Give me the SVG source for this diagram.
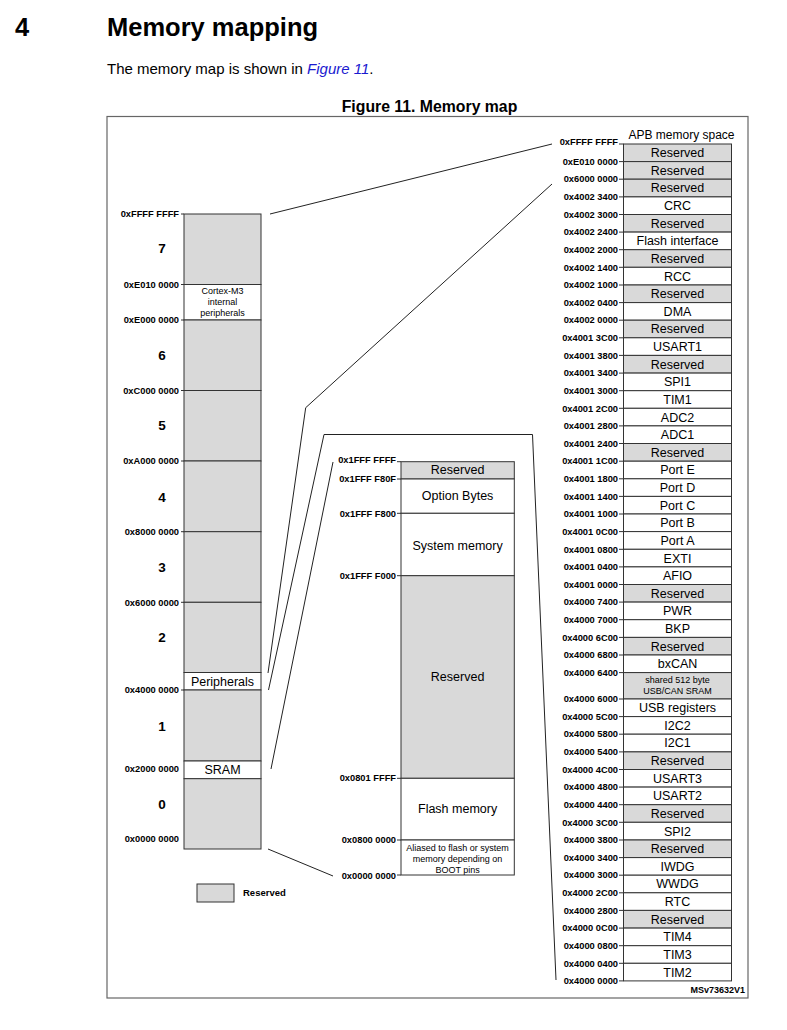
<svg xmlns="http://www.w3.org/2000/svg" width="787" height="1030" viewBox="0 0 787 1030">
<style>
text{font-family:"Liberation Sans",Arial,sans-serif;fill:#000}
.h1{font-size:25.5px;font-weight:bold}
.p{font-size:15px}
.cap{font-size:15.8px;font-weight:bold;text-anchor:middle}
.frame{fill:none;stroke:#666;stroke-width:1.2}
.bx{stroke:#333;stroke-width:1}
.r{fill:#d9d9d9}
.w{fill:#fff}
.a{font-size:9.3px;font-weight:bold;text-anchor:end}
.t{font-size:12.5px;text-anchor:middle}
.s{font-size:9px;text-anchor:middle}
.n{font-size:13.5px;font-weight:bold;text-anchor:middle}
.tick{stroke:#333;stroke-width:1;fill:none}
.conn{fill:none;stroke:#222;stroke-width:1}
</style>

<text class="h1" x="15" y="36">4</text>
<text class="h1" x="107" y="36">Memory mapping</text>
<text class="p" x="107" y="74">The memory map is shown in <tspan fill="#1a1ad0" font-style="italic">Figure 11</tspan>.</text>
<text class="cap" x="429.5" y="112">Figure 11. Memory map</text>
<rect class="frame" x="107" y="116.5" width="641" height="881.5"/>

<!-- Left column: full 4 GB map -->
<g id="left-map">
<g id="L7"><rect class="bx r" x="184" y="214" width="77" height="70.5"/><text class="n" x="162" y="252.7">7</text></g>
<g id="L-cortex"><rect class="bx w" x="184" y="284.5" width="77" height="35.5"/><text class="s" x="222.5" y="294">Cortex-M3</text><text class="s" x="222.5" y="305">internal</text><text class="s" x="222.5" y="316">peripherals</text></g>
<g id="L6"><rect class="bx r" x="184" y="320" width="77" height="70.5"/><text class="n" x="162" y="359.7">6</text></g>
<g id="L5"><rect class="bx r" x="184" y="390.5" width="77" height="70.5"/><text class="n" x="162" y="429.7">5</text></g>
<g id="L4"><rect class="bx r" x="184" y="461" width="77" height="70.7"/><text class="n" x="162" y="501.7">4</text></g>
<g id="L3"><rect class="bx r" x="184" y="531.7" width="77" height="70.6"/><text class="n" x="162" y="571.7">3</text></g>
<g id="L2"><rect class="bx r" x="184" y="602.3" width="77" height="70.2"/><text class="n" x="162" y="641.7">2</text></g>
<g id="L-periph"><rect class="bx w" x="184" y="672.5" width="77" height="17.5"/><text class="t" x="222.5" y="685.7">Peripherals</text></g>
<g id="L1"><rect class="bx r" x="184" y="690" width="77" height="71"/><text class="n" x="162" y="730.7">1</text></g>
<g id="L-sram"><rect class="bx w" x="184" y="761" width="77" height="17.7"/><text class="t" x="222.5" y="774.4">SRAM</text></g>
<g id="L0"><rect class="bx r" x="184" y="778.7" width="77" height="70.3"/><text class="n" x="162" y="808.7">0</text></g>
<path class="tick" d="M181 214H184M181 284.5H184M181 320H184M181 390.5H184M181 461H184M181 531.7H184M181 602.3H184M181 690H184"/>
<g id="L-addr">
<text class="a" x="179" y="217.3">0xFFFF FFFF</text>
<text class="a" x="179" y="287.8">0xE010 0000</text>
<text class="a" x="179" y="323.3">0xE000 0000</text>
<text class="a" x="179" y="393.8">0xC000 0000</text>
<text class="a" x="179" y="464.3">0xA000 0000</text>
<text class="a" x="179" y="535">0x8000 0000</text>
<text class="a" x="179" y="605.6">0x6000 0000</text>
<text class="a" x="179" y="693.3">0x4000 0000</text>
<text class="a" x="179" y="772.3">0x2000 0000</text>
<text class="a" x="179" y="842.3">0x0000 0000</text>
</g>
</g>

<g id="legend"><rect class="bx r" x="197" y="884" width="37" height="18"/><text x="243" y="896" font-size="9.5" font-weight="bold">Reserved</text></g>

<!-- Middle column: code area -->
<g id="mid-map">
<g id="M-res1"><rect class="bx r" x="401" y="461.7" width="113.3" height="17.3"/><text class="t" x="457.6" y="474.4">Reserved</text></g>
<g id="M-opt"><rect class="bx w" x="401" y="479" width="113.3" height="34.3"/><text class="t" x="457.6" y="500.1">Option Bytes</text></g>
<g id="M-sys"><rect class="bx w" x="401" y="513.3" width="113.3" height="62.4"/><text class="t" x="457.6" y="550.1">System memory</text></g>
<g id="M-res2"><rect class="bx r" x="401" y="575.7" width="113.3" height="202.6"/><text class="t" x="457.6" y="681.1">Reserved</text></g>
<g id="M-flash"><rect class="bx w" x="401" y="778.3" width="113.3" height="61.7"/><text class="t" x="457.6" y="813.4">Flash memory</text></g>
<g id="M-alias"><rect class="bx w" x="401" y="840" width="113.3" height="35"/><text class="s" x="457.6" y="850.5" font-size="9.5">Aliased to flash or system</text><text class="s" x="457.6" y="861.5" font-size="9.5">memory depending on</text><text class="s" x="457.6" y="872.5" font-size="9.5">BOOT pins</text></g>
<path class="tick" d="M397 461.7H401M397 479H401M397 513.3H401M397 575.7H401M397 778.3H401M397 840H401M397 875H401"/>
<g id="M-addr">
<text class="a" x="396" y="463.3">0x1FFF FFFF</text>
<text class="a" x="396" y="481.6">0x1FFF F80F</text>
<text class="a" x="396" y="516.6">0x1FFF F800</text>
<text class="a" x="396" y="579">0x1FFF F000</text>
<text class="a" x="396" y="781.3">0x0801 FFFF</text>
<text class="a" x="396" y="843.3">0x0800 0000</text>
<text class="a" x="396" y="879.3">0x0000 0000</text>
</g>
</g>

<!-- Right column: APB memory space -->
<g id="right-map">
<text x="681.5" y="139.3" font-size="12" text-anchor="middle">APB memory space</text>
<g id="R01"><rect class="bx r" x="623.5" y="144" width="108" height="17.6"/><text class="t" x="677.5" y="157.2">Reserved</text></g>
<g id="R02"><rect class="bx r" x="623.5" y="161.6" width="108" height="17.6"/><text class="t" x="677.5" y="174.8">Reserved</text></g>
<g id="R03"><rect class="bx r" x="623.5" y="179.2" width="108" height="17.7"/><text class="t" x="677.5" y="192.4">Reserved</text></g>
<g id="R04"><rect class="bx w" x="623.5" y="196.9" width="108" height="17.6"/><text class="t" x="677.5" y="210.1">CRC</text></g>
<g id="R05"><rect class="bx r" x="623.5" y="214.5" width="108" height="17.6"/><text class="t" x="677.5" y="227.7">Reserved</text></g>
<g id="R06"><rect class="bx w" x="623.5" y="232.1" width="108" height="17.6"/><text class="t" x="677.5" y="245.3">Flash interface</text></g>
<g id="R07"><rect class="bx r" x="623.5" y="249.7" width="108" height="17.6"/><text class="t" x="677.5" y="262.9">Reserved</text></g>
<g id="R08"><rect class="bx w" x="623.5" y="267.3" width="108" height="17.7"/><text class="t" x="677.5" y="280.5">RCC</text></g>
<g id="R09"><rect class="bx r" x="623.5" y="285" width="108" height="17.6"/><text class="t" x="677.5" y="298.2">Reserved</text></g>
<g id="R10"><rect class="bx w" x="623.5" y="302.6" width="108" height="17.6"/><text class="t" x="677.5" y="315.8">DMA</text></g>
<g id="R11"><rect class="bx r" x="623.5" y="320.2" width="108" height="17.6"/><text class="t" x="677.5" y="333.4">Reserved</text></g>
<g id="R12"><rect class="bx w" x="623.5" y="337.8" width="108" height="17.6"/><text class="t" x="677.5" y="351">USART1</text></g>
<g id="R13"><rect class="bx r" x="623.5" y="355.4" width="108" height="17.7"/><text class="t" x="677.5" y="368.6">Reserved</text></g>
<g id="R14"><rect class="bx w" x="623.5" y="373.1" width="108" height="17.6"/><text class="t" x="677.5" y="386.3">SPI1</text></g>
<g id="R15"><rect class="bx w" x="623.5" y="390.7" width="108" height="17.6"/><text class="t" x="677.5" y="403.9">TIM1</text></g>
<g id="R16"><rect class="bx w" x="623.5" y="408.3" width="108" height="17.6"/><text class="t" x="677.5" y="421.5">ADC2</text></g>
<g id="R17"><rect class="bx w" x="623.5" y="425.9" width="108" height="17.6"/><text class="t" x="677.5" y="439.1">ADC1</text></g>
<g id="R18"><rect class="bx r" x="623.5" y="443.5" width="108" height="17.7"/><text class="t" x="677.5" y="456.7">Reserved</text></g>
<g id="R19"><rect class="bx w" x="623.5" y="461.2" width="108" height="17.6"/><text class="t" x="677.5" y="474.4">Port E</text></g>
<g id="R20"><rect class="bx w" x="623.5" y="478.8" width="108" height="17.6"/><text class="t" x="677.5" y="492">Port D</text></g>
<g id="R21"><rect class="bx w" x="623.5" y="496.4" width="108" height="17.6"/><text class="t" x="677.5" y="509.6">Port C</text></g>
<g id="R22"><rect class="bx w" x="623.5" y="514" width="108" height="17.6"/><text class="t" x="677.5" y="527.2">Port B</text></g>
<g id="R23"><rect class="bx w" x="623.5" y="531.6" width="108" height="17.7"/><text class="t" x="677.5" y="544.8">Port A</text></g>
<g id="R24"><rect class="bx w" x="623.5" y="549.3" width="108" height="17.6"/><text class="t" x="677.5" y="562.5">EXTI</text></g>
<g id="R25"><rect class="bx w" x="623.5" y="566.9" width="108" height="17.6"/><text class="t" x="677.5" y="580.1">AFIO</text></g>
<g id="R26"><rect class="bx r" x="623.5" y="584.5" width="108" height="17.6"/><text class="t" x="677.5" y="597.7">Reserved</text></g>
<g id="R27"><rect class="bx w" x="623.5" y="602.1" width="108" height="17.6"/><text class="t" x="677.5" y="615.3">PWR</text></g>
<g id="R28"><rect class="bx w" x="623.5" y="619.7" width="108" height="17.7"/><text class="t" x="677.5" y="632.9">BKP</text></g>
<g id="R29"><rect class="bx r" x="623.5" y="637.4" width="108" height="17.6"/><text class="t" x="677.5" y="650.6">Reserved</text></g>
<g id="R30"><rect class="bx w" x="623.5" y="655" width="108" height="17.6"/><text class="t" x="677.5" y="668.2">bxCAN</text></g>
<g id="R31"><rect class="bx r" x="623.5" y="672.6" width="108" height="26.4"/><text class="s" x="677.5" y="683" font-size="8.8">shared 512 byte</text><text class="s" x="677.5" y="694" font-size="8.8">USB/CAN SRAM</text></g>
<g id="R32"><rect class="bx w" x="623.5" y="699" width="108" height="17.6"/><text class="t" x="677.5" y="712.2">USB registers</text></g>
<g id="R33"><rect class="bx w" x="623.5" y="716.6" width="108" height="17.6"/><text class="t" x="677.5" y="729.8">I2C2</text></g>
<g id="R34"><rect class="bx w" x="623.5" y="734.2" width="108" height="17.7"/><text class="t" x="677.5" y="747.4">I2C1</text></g>
<g id="R35"><rect class="bx r" x="623.5" y="751.9" width="108" height="17.6"/><text class="t" x="677.5" y="765.1">Reserved</text></g>
<g id="R36"><rect class="bx w" x="623.5" y="769.5" width="108" height="17.6"/><text class="t" x="677.5" y="782.7">USART3</text></g>
<g id="R37"><rect class="bx w" x="623.5" y="787.1" width="108" height="17.6"/><text class="t" x="677.5" y="800.3">USART2</text></g>
<g id="R38"><rect class="bx r" x="623.5" y="804.7" width="108" height="17.6"/><text class="t" x="677.5" y="817.9">Reserved</text></g>
<g id="R39"><rect class="bx w" x="623.5" y="822.3" width="108" height="17.7"/><text class="t" x="677.5" y="835.5">SPI2</text></g>
<g id="R40"><rect class="bx r" x="623.5" y="840" width="108" height="17.6"/><text class="t" x="677.5" y="853.2">Reserved</text></g>
<g id="R41"><rect class="bx w" x="623.5" y="857.6" width="108" height="17.6"/><text class="t" x="677.5" y="870.8">IWDG</text></g>
<g id="R42"><rect class="bx w" x="623.5" y="875.2" width="108" height="17.6"/><text class="t" x="677.5" y="888.4">WWDG</text></g>
<g id="R43"><rect class="bx w" x="623.5" y="892.8" width="108" height="17.6"/><text class="t" x="677.5" y="906">RTC</text></g>
<g id="R44"><rect class="bx r" x="623.5" y="910.4" width="108" height="17.7"/><text class="t" x="677.5" y="923.6">Reserved</text></g>
<g id="R45"><rect class="bx w" x="623.5" y="928.1" width="108" height="17.6"/><text class="t" x="677.5" y="941.3">TIM4</text></g>
<g id="R46"><rect class="bx w" x="623.5" y="945.7" width="108" height="17.6"/><text class="t" x="677.5" y="958.9">TIM3</text></g>
<g id="R47"><rect class="bx w" x="623.5" y="963.3" width="108" height="17.6"/><text class="t" x="677.5" y="976.5">TIM2</text></g>
<path class="tick" d="M619 144H623.5M619 161.6H623.5M619 179.2H623.5M619 196.9H623.5M619 214.5H623.5M619 232.1H623.5M619 249.7H623.5M619 267.3H623.5M619 285H623.5M619 302.6H623.5M619 320.2H623.5M619 337.8H623.5M619 355.4H623.5M619 373.1H623.5M619 390.7H623.5M619 408.3H623.5M619 425.9H623.5M619 443.5H623.5M619 461.2H623.5M619 478.8H623.5M619 496.4H623.5M619 514H623.5M619 531.6H623.5M619 549.3H623.5M619 566.9H623.5M619 584.5H623.5M619 602.1H623.5M619 619.7H623.5M619 637.4H623.5M619 655H623.5M619 672.6H623.5M619 699H623.5M619 716.6H623.5M619 734.2H623.5M619 751.9H623.5M619 769.5H623.5M619 787.1H623.5M619 804.7H623.5M619 822.3H623.5M619 840H623.5M619 857.6H623.5M619 875.2H623.5M619 892.8H623.5M619 910.4H623.5M619 928.1H623.5M619 945.7H623.5M619 963.3H623.5M619 980.9H623.5"/>
<g id="R-addr">
<text class="a" x="618" y="145">0xFFFF FFFF</text>
<text class="a" x="618" y="164.8">0xE010 0000</text>
<text class="a" x="618" y="182.4">0x6000 0000</text>
<text class="a" x="618" y="200.1">0x4002 3400</text>
<text class="a" x="618" y="217.7">0x4002 3000</text>
<text class="a" x="618" y="235.3">0x4002 2400</text>
<text class="a" x="618" y="252.9">0x4002 2000</text>
<text class="a" x="618" y="270.5">0x4002 1400</text>
<text class="a" x="618" y="288.2">0x4002 1000</text>
<text class="a" x="618" y="305.8">0x4002 0400</text>
<text class="a" x="618" y="323.4">0x4002 0000</text>
<text class="a" x="618" y="341">0x4001 3C00</text>
<text class="a" x="618" y="358.6">0x4001 3800</text>
<text class="a" x="618" y="376.3">0x4001 3400</text>
<text class="a" x="618" y="393.9">0x4001 3000</text>
<text class="a" x="618" y="411.5">0x4001 2C00</text>
<text class="a" x="618" y="429.1">0x4001 2800</text>
<text class="a" x="618" y="446.7">0x4001 2400</text>
<text class="a" x="618" y="464.4">0x4001 1C00</text>
<text class="a" x="618" y="482">0x4001 1800</text>
<text class="a" x="618" y="499.6">0x4001 1400</text>
<text class="a" x="618" y="517.2">0x4001 1000</text>
<text class="a" x="618" y="534.8">0x4001 0C00</text>
<text class="a" x="618" y="552.5">0x4001 0800</text>
<text class="a" x="618" y="570.1">0x4001 0400</text>
<text class="a" x="618" y="587.7">0x4001 0000</text>
<text class="a" x="618" y="605.3">0x4000 7400</text>
<text class="a" x="618" y="622.9">0x4000 7000</text>
<text class="a" x="618" y="640.6">0x4000 6C00</text>
<text class="a" x="618" y="658.2">0x4000 6800</text>
<text class="a" x="618" y="675.8">0x4000 6400</text>
<text class="a" x="618" y="702.2">0x4000 6000</text>
<text class="a" x="618" y="719.8">0x4000 5C00</text>
<text class="a" x="618" y="737.4">0x4000 5800</text>
<text class="a" x="618" y="755.1">0x4000 5400</text>
<text class="a" x="618" y="772.7">0x4000 4C00</text>
<text class="a" x="618" y="790.3">0x4000 4800</text>
<text class="a" x="618" y="807.9">0x4000 4400</text>
<text class="a" x="618" y="825.5">0x4000 3C00</text>
<text class="a" x="618" y="843.2">0x4000 3800</text>
<text class="a" x="618" y="860.8">0x4000 3400</text>
<text class="a" x="618" y="878.4">0x4000 3000</text>
<text class="a" x="618" y="896">0x4000 2C00</text>
<text class="a" x="618" y="913.6">0x4000 2800</text>
<text class="a" x="618" y="931.3">0x4000 0C00</text>
<text class="a" x="618" y="948.9">0x4000 0800</text>
<text class="a" x="618" y="966.5">0x4000 0400</text>
<text class="a" x="618" y="984.1">0x4000 0000</text>
</g>
</g>

<g id="connectors">
<path class="conn" d="M270 214L552 144"/>
<path class="conn" d="M268 673L305.7 407.7L552 184"/>
<path class="conn" d="M268.5 690L324 434.5L532.5 434.5L556 980"/>
<path class="conn" d="M271 769L333 462"/>
<path class="conn" d="M268 849L333 876"/>
</g>

<text x="745" y="993" font-size="9" font-weight="bold" text-anchor="end">MSv73632V1</text>
</svg>
